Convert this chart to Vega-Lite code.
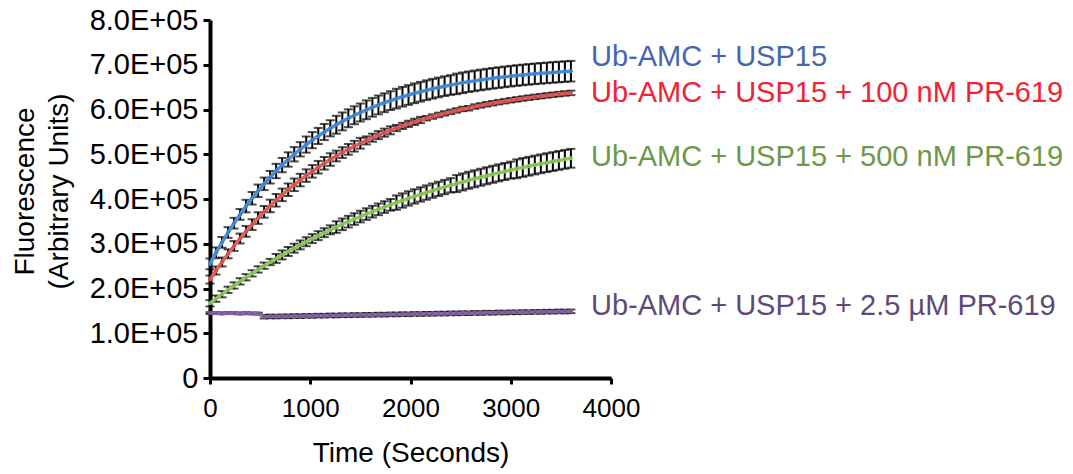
{
"$schema": "https://vega.github.io/schema/vega-lite/v6.json",
"width": 401, "height": 358,
"autosize": "none",
"padding": {"left": 210, "top": 20, "right": 462, "bottom": 96},
"background": "white",
"config": {"view": {"stroke": null}, "font": "Liberation Sans"},
"datasets": {
"curves": [
{"t":0,"s":"A","y":255000,"e":12000},{"t":60,"s":"A","y":279700,"e":12000},{"t":120,"s":"A","y":303100,"e":12000},{"t":180,"s":"A","y":325100,"e":12000},{"t":240,"s":"A","y":345900,"e":12000},{"t":300,"s":"A","y":365600,"e":12000},{"t":360,"s":"A","y":384100,"e":14000},{"t":420,"s":"A","y":401700,"e":14000},{"t":480,"s":"A","y":418300,"e":14000},{"t":540,"s":"A","y":433900,"e":14000},{"t":600,"s":"A","y":448700,"e":14000},{"t":660,"s":"A","y":462600,"e":16000},{"t":720,"s":"A","y":475800,"e":16000},{"t":780,"s":"A","y":488300,"e":16000},{"t":840,"s":"A","y":500000,"e":16000},{"t":900,"s":"A","y":511100,"e":16000},{"t":960,"s":"A","y":521600,"e":18000},{"t":1020,"s":"A","y":531500,"e":18000},{"t":1080,"s":"A","y":540900,"e":18000},{"t":1140,"s":"A","y":549700,"e":18000},{"t":1200,"s":"A","y":558000,"e":18000},{"t":1260,"s":"A","y":565900,"e":20000},{"t":1320,"s":"A","y":573400,"e":20000},{"t":1380,"s":"A","y":580400,"e":20000},{"t":1440,"s":"A","y":587100,"e":20000},{"t":1500,"s":"A","y":593300,"e":20000},{"t":1560,"s":"A","y":599300,"e":21000},{"t":1620,"s":"A","y":604900,"e":21000},{"t":1680,"s":"A","y":610200,"e":21000},{"t":1740,"s":"A","y":615100,"e":21000},{"t":1800,"s":"A","y":619900,"e":21000},{"t":1860,"s":"A","y":624300,"e":22000},{"t":1920,"s":"A","y":628500,"e":22000},{"t":1980,"s":"A","y":632400,"e":22000},{"t":2040,"s":"A","y":636200,"e":22000},{"t":2100,"s":"A","y":639700,"e":22000},{"t":2160,"s":"A","y":643100,"e":22000},{"t":2220,"s":"A","y":646300,"e":22000},{"t":2280,"s":"A","y":649300,"e":22000},{"t":2340,"s":"A","y":652100,"e":22000},{"t":2400,"s":"A","y":654700,"e":22000},{"t":2460,"s":"A","y":657200,"e":23000},{"t":2520,"s":"A","y":659600,"e":23000},{"t":2580,"s":"A","y":661900,"e":23000},{"t":2640,"s":"A","y":664000,"e":23000},{"t":2700,"s":"A","y":666000,"e":23000},{"t":2760,"s":"A","y":667900,"e":23000},{"t":2820,"s":"A","y":669700,"e":23000},{"t":2880,"s":"A","y":671300,"e":23000},{"t":2940,"s":"A","y":672900,"e":23000},{"t":3000,"s":"A","y":674500,"e":23000},{"t":3060,"s":"A","y":675900,"e":23000},{"t":3120,"s":"A","y":677200,"e":23000},{"t":3180,"s":"A","y":678500,"e":23000},{"t":3240,"s":"A","y":679700,"e":23000},{"t":3300,"s":"A","y":680800,"e":23000},{"t":3360,"s":"A","y":681800,"e":23000},{"t":3420,"s":"A","y":682900,"e":23000},{"t":3480,"s":"A","y":683800,"e":23000},{"t":3540,"s":"A","y":684700,"e":23000},{"t":3600,"s":"A","y":685600,"e":23000},
{"t":0,"s":"B","y":220000,"e":9000},{"t":60,"s":"B","y":240100,"e":9000},{"t":120,"s":"B","y":259200,"e":10000},{"t":180,"s":"B","y":277500,"e":10000},{"t":240,"s":"B","y":295000,"e":11000},{"t":300,"s":"B","y":311700,"e":11000},{"t":360,"s":"B","y":327600,"e":12000},{"t":420,"s":"B","y":342800,"e":12000},{"t":480,"s":"B","y":357400,"e":13000},{"t":540,"s":"B","y":371300,"e":13000},{"t":600,"s":"B","y":384500,"e":14000},{"t":660,"s":"B","y":397100,"e":14000},{"t":720,"s":"B","y":409200,"e":14000},{"t":780,"s":"B","y":420700,"e":14000},{"t":840,"s":"B","y":431800,"e":14000},{"t":900,"s":"B","y":442300,"e":14000},{"t":960,"s":"B","y":452300,"e":14000},{"t":1020,"s":"B","y":461900,"e":14000},{"t":1080,"s":"B","y":471100,"e":14000},{"t":1140,"s":"B","y":479800,"e":14000},{"t":1200,"s":"B","y":488200,"e":14000},{"t":1260,"s":"B","y":496100,"e":12000},{"t":1320,"s":"B","y":503800,"e":12000},{"t":1380,"s":"B","y":511000,"e":12000},{"t":1440,"s":"B","y":518000,"e":12000},{"t":1500,"s":"B","y":524600,"e":12000},{"t":1560,"s":"B","y":530900,"e":9000},{"t":1620,"s":"B","y":537000,"e":9000},{"t":1680,"s":"B","y":542800,"e":9000},{"t":1740,"s":"B","y":548300,"e":9000},{"t":1800,"s":"B","y":553500,"e":9000},{"t":1860,"s":"B","y":558600,"e":7000},{"t":1920,"s":"B","y":563400,"e":7000},{"t":1980,"s":"B","y":567900,"e":7000},{"t":2040,"s":"B","y":572300,"e":7000},{"t":2100,"s":"B","y":576500,"e":7000},{"t":2160,"s":"B","y":580500,"e":5000},{"t":2220,"s":"B","y":584300,"e":5000},{"t":2280,"s":"B","y":587900,"e":5000},{"t":2340,"s":"B","y":591400,"e":5000},{"t":2400,"s":"B","y":594700,"e":5000},{"t":2460,"s":"B","y":597900,"e":5000},{"t":2520,"s":"B","y":601200,"e":5000},{"t":2580,"s":"B","y":602600,"e":5000},{"t":2640,"s":"B","y":606600,"e":5000},{"t":2700,"s":"B","y":609200,"e":5000},{"t":2760,"s":"B","y":611700,"e":5000},{"t":2820,"s":"B","y":614100,"e":5000},{"t":2880,"s":"B","y":616400,"e":5000},{"t":2940,"s":"B","y":618600,"e":5000},{"t":3000,"s":"B","y":620700,"e":5000},{"t":3060,"s":"B","y":622700,"e":5000},{"t":3120,"s":"B","y":624600,"e":5000},{"t":3180,"s":"B","y":626400,"e":5000},{"t":3240,"s":"B","y":628200,"e":5000},{"t":3300,"s":"B","y":629800,"e":5000},{"t":3360,"s":"B","y":631400,"e":5000},{"t":3420,"s":"B","y":632900,"e":5000},{"t":3480,"s":"B","y":634400,"e":5000},{"t":3540,"s":"B","y":635800,"e":5000},{"t":3600,"s":"B","y":637100,"e":5000},
{"t":0,"s":"C","y":167000,"e":7000},{"t":60,"s":"C","y":177300,"e":7000},{"t":120,"s":"C","y":187300,"e":7000},{"t":180,"s":"C","y":197100,"e":7000},{"t":240,"s":"C","y":206700,"e":7000},{"t":300,"s":"C","y":216000,"e":7000},{"t":360,"s":"C","y":225100,"e":7000},{"t":420,"s":"C","y":233900,"e":7000},{"t":480,"s":"C","y":242600,"e":7000},{"t":540,"s":"C","y":251000,"e":7000},{"t":600,"s":"C","y":259200,"e":7000},{"t":660,"s":"C","y":267200,"e":10000},{"t":720,"s":"C","y":275100,"e":10000},{"t":780,"s":"C","y":282700,"e":10000},{"t":840,"s":"C","y":290100,"e":10000},{"t":900,"s":"C","y":297400,"e":10000},{"t":960,"s":"C","y":304500,"e":10000},{"t":1020,"s":"C","y":311400,"e":10000},{"t":1080,"s":"C","y":318100,"e":10000},{"t":1140,"s":"C","y":324700,"e":10000},{"t":1200,"s":"C","y":331100,"e":10000},{"t":1260,"s":"C","y":337300,"e":13000},{"t":1320,"s":"C","y":343400,"e":13000},{"t":1380,"s":"C","y":349400,"e":13000},{"t":1440,"s":"C","y":355200,"e":13000},{"t":1500,"s":"C","y":360800,"e":13000},{"t":1560,"s":"C","y":366300,"e":13000},{"t":1620,"s":"C","y":371700,"e":13000},{"t":1680,"s":"C","y":376900,"e":13000},{"t":1740,"s":"C","y":382000,"e":13000},{"t":1800,"s":"C","y":387000,"e":13000},{"t":1860,"s":"C","y":391900,"e":16000},{"t":1920,"s":"C","y":396600,"e":16000},{"t":1980,"s":"C","y":401300,"e":16000},{"t":2040,"s":"C","y":405800,"e":16000},{"t":2100,"s":"C","y":410200,"e":16000},{"t":2160,"s":"C","y":414400,"e":16000},{"t":2220,"s":"C","y":418700,"e":16000},{"t":2280,"s":"C","y":422700,"e":16000},{"t":2340,"s":"C","y":426700,"e":16000},{"t":2400,"s":"C","y":430600,"e":16000},{"t":2460,"s":"C","y":434400,"e":19000},{"t":2520,"s":"C","y":438100,"e":19000},{"t":2580,"s":"C","y":441700,"e":19000},{"t":2640,"s":"C","y":445200,"e":19000},{"t":2700,"s":"C","y":448600,"e":19000},{"t":2760,"s":"C","y":452000,"e":19000},{"t":2820,"s":"C","y":455200,"e":19000},{"t":2880,"s":"C","y":458400,"e":19000},{"t":2940,"s":"C","y":461500,"e":19000},{"t":3000,"s":"C","y":464500,"e":19000},{"t":3060,"s":"C","y":467500,"e":21000},{"t":3120,"s":"C","y":470400,"e":21000},{"t":3180,"s":"C","y":473200,"e":21000},{"t":3240,"s":"C","y":475900,"e":21000},{"t":3300,"s":"C","y":478600,"e":21000},{"t":3360,"s":"C","y":481200,"e":21000},{"t":3420,"s":"C","y":483700,"e":21000},{"t":3480,"s":"C","y":486200,"e":21000},{"t":3540,"s":"C","y":488600,"e":21000},{"t":3600,"s":"C","y":491000,"e":21000},
{"t":0,"s":"D","y":145000,"e":2000},{"t":60,"s":"D","y":145300,"e":2000},{"t":120,"s":"D","y":144400,"e":2000},{"t":180,"s":"D","y":145100,"e":2000},{"t":240,"s":"D","y":144800,"e":2000},{"t":300,"s":"D","y":144200,"e":2000},{"t":360,"s":"D","y":144900,"e":2000},{"t":420,"s":"D","y":144300,"e":2000},{"t":480,"s":"D","y":144100,"e":2000},{"t":540,"s":"D","y":137000,"e":4000},{"t":600,"s":"D","y":137600,"e":4000},{"t":660,"s":"D","y":137300,"e":4000},{"t":720,"s":"D","y":137900,"e":4000},{"t":780,"s":"D","y":137700,"e":4000},{"t":840,"s":"D","y":138500,"e":4000},{"t":900,"s":"D","y":138200,"e":4000},{"t":960,"s":"D","y":138900,"e":4000},{"t":1020,"s":"D","y":138700,"e":4000},{"t":1080,"s":"D","y":139400,"e":4000},{"t":1140,"s":"D","y":139200,"e":4000},{"t":1200,"s":"D","y":139900,"e":4000},{"t":1260,"s":"D","y":139600,"e":4000},{"t":1320,"s":"D","y":140400,"e":4000},{"t":1380,"s":"D","y":140100,"e":4000},{"t":1440,"s":"D","y":140800,"e":4000},{"t":1500,"s":"D","y":140600,"e":4000},{"t":1560,"s":"D","y":141300,"e":4000},{"t":1620,"s":"D","y":141000,"e":4000},{"t":1680,"s":"D","y":141800,"e":4000},{"t":1740,"s":"D","y":141500,"e":4000},{"t":1800,"s":"D","y":142200,"e":4000},{"t":1860,"s":"D","y":142000,"e":4000},{"t":1920,"s":"D","y":142700,"e":4000},{"t":1980,"s":"D","y":142400,"e":4000},{"t":2040,"s":"D","y":143200,"e":4000},{"t":2100,"s":"D","y":142900,"e":4000},{"t":2160,"s":"D","y":143600,"e":4000},{"t":2220,"s":"D","y":143400,"e":4000},{"t":2280,"s":"D","y":144100,"e":4000},{"t":2340,"s":"D","y":143800,"e":4000},{"t":2400,"s":"D","y":144600,"e":4000},{"t":2460,"s":"D","y":144300,"e":4000},{"t":2520,"s":"D","y":145000,"e":4000},{"t":2580,"s":"D","y":144800,"e":4000},{"t":2640,"s":"D","y":145500,"e":4000},{"t":2700,"s":"D","y":145200,"e":4000},{"t":2760,"s":"D","y":146000,"e":4000},{"t":2820,"s":"D","y":145700,"e":4000},{"t":2880,"s":"D","y":146500,"e":4000},{"t":2940,"s":"D","y":146200,"e":4000},{"t":3000,"s":"D","y":146900,"e":4000},{"t":3060,"s":"D","y":146700,"e":4000},{"t":3120,"s":"D","y":147400,"e":4000},{"t":3180,"s":"D","y":147100,"e":4000},{"t":3240,"s":"D","y":147900,"e":4000},{"t":3300,"s":"D","y":147600,"e":4000},{"t":3360,"s":"D","y":148300,"e":4000},{"t":3420,"s":"D","y":148100,"e":4000},{"t":3480,"s":"D","y":148800,"e":4000},{"t":3540,"s":"D","y":148500,"e":4000},{"t":3600,"s":"D","y":149000,"e":4000}
],
"labels": [
{"s":"A","label":"Ub-AMC + USP15","x":3800,"y":717000},
{"s":"B","label":"Ub-AMC + USP15 + 100 nM PR-619","x":3800,"y":637000},
{"s":"C","label":"Ub-AMC + USP15 + 500 nM PR-619","x":3800,"y":494000},
{"s":"D","label":"Ub-AMC + USP15 + 2.5 µM PR-619","x":3800,"y":162000}
]
},
"layer": [
{"data": {"name": "curves"},
 "mark": {"type": "errorbar", "color": "black", "ticks": {"size": 9, "thickness": 2, "color": "black"}, "rule": {"strokeWidth": 2, "color": "black"}},
 "encoding": {
  "x": {"field": "t", "type": "quantitative", "scale": {"domain": [0, 4000], "nice": false},
   "axis": {"values": [0, 1000, 2000, 3000, 4000], "format": "d", "title": "Time (Seconds)", "grid": false, "labelFontSize": 26, "labelColor": "black", "labelPadding": 11, "labelFlush": false, "titleFontSize": 28, "titleFontWeight": "normal", "titleColor": "black", "titlePadding": 18, "domainColor": "black", "domainWidth": 4, "tickColor": "black", "tickWidth": 3, "tickSize": 6}},
  "y": {"field": "y", "type": "quantitative", "scale": {"domain": [0, 800000], "nice": false},
   "axis": {"values": [0, 100000, 200000, 300000, 400000, 500000, 600000, 700000, 800000], "labelExpr": "datum.value == 0 ? '0' : format(datum.value / 100000, '.1f') + 'E+05'", "grid": false, "labelFontSize": 29, "labelColor": "black", "labelPadding": 5, "title": ["Fluorescence", "(Arbitrary Units)"], "titleFontSize": 28, "titleFontWeight": "normal", "titleColor": "black", "titleLineHeight": 34, "titleX": -171, "titleY": 171, "domainColor": "black", "domainWidth": 4, "tickColor": "black", "tickWidth": 3, "tickSize": 7}},
  "yError": {"field": "e"},
  "detail": {"field": "s"}
 }},
{"data": {"name": "curves"},
 "mark": {"type": "line", "strokeWidth": 3.5},
 "encoding": {
  "x": {"field": "t", "type": "quantitative"},
  "y": {"field": "y", "type": "quantitative"},
  "color": {"field": "s", "type": "nominal", "scale": {"domain": ["A", "B", "C", "D"], "range": ["#4d8fd6", "#df5f5a", "#93c760", "#8868a8"]}, "legend": null}
 }},
{"data": {"name": "curves"},
 "mark": {"type": "point", "filled": true, "size": 16, "opacity": 1},
 "encoding": {
  "x": {"field": "t", "type": "quantitative"},
  "y": {"field": "y", "type": "quantitative"},
  "color": {"field": "s", "type": "nominal", "scale": {"domain": ["A", "B", "C", "D"], "range": ["#3f82cc", "#d5504c", "#86bd52", "#7a5a9c"]}, "legend": null}
 }},
{"data": {"name": "labels"},
 "mark": {"type": "text", "align": "left", "baseline": "middle", "fontSize": 29, "clip": false},
 "encoding": {
  "x": {"field": "x", "type": "quantitative"},
  "y": {"field": "y", "type": "quantitative"},
  "text": {"field": "label"},
  "color": {"field": "s", "type": "nominal", "scale": {"domain": ["A", "B", "C", "D"], "range": ["#4466b0", "#ee2433", "#6e9847", "#5e4a7a"]}, "legend": null}
 }}
],
"resolve": {"scale": {"color": "independent"}}
}
